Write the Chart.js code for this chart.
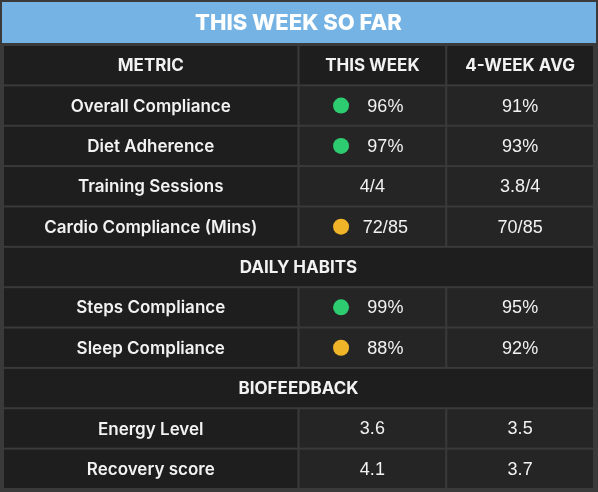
<!DOCTYPE html>
<html>
<head>
<meta charset="utf-8">
<script src="https://cdn.jsdelivr.net/npm/chart.js@4"></script>
<style>
  html, body { margin: 0; padding: 0; background: #3a3a3a; }
  #wrap { width: 598px; height: 492px; }
</style>
</head>
<body>
<div id="wrap"><canvas id="tbl"></canvas></div>
<script>
// Table content
var title = 'THIS WEEK SO FAR';
var headers = ['METRIC', 'THIS WEEK', '4-WEEK AVG'];
var metrics = ['Overall Compliance', 'Diet Adherence', 'Training Sessions', 'Cardio Compliance (Mins)',
  'DAILY HABITS', 'Steps Compliance', 'Sleep Compliance', 'BIOFEEDBACK', 'Energy Level', 'Recovery score'];
var thisWeek = ['96%', '97%', '4/4', '72/85', null, '99%', '88%', null, '3.6', '4.1'];
var avg4w = ['91%', '93%', '3.8/4', '70/85', null, '95%', '92%', null, '3.5', '3.7'];
var statusFlags = ['green', 'green', null, 'yellow', null, 'green', 'yellow', null, null, null];

var colEdges = [0, 50, 75, 100];
var statusColors = { green: '#2ecc71', yellow: '#f0b429' };

var dotPoints = [], dotColors = [];
for (var i = 0; i < statusFlags.length; i++) {
  if (statusFlags[i]) {
    dotPoints.push({ x: 57.2, y: i + 1.5 });
    dotColors.push(statusColors[statusFlags[i]]);
  }
}

var tablePlugin = {
  id: 'tablePlugin',
  beforeDatasetsDraw: function(chart) {
    var ctx = chart.ctx, xs = chart.scales.x, ys = chart.scales.y;
    var nRows = metrics.length + 1;
    ctx.save();
    // title band
    ctx.fillStyle = '#74b3e3';
    ctx.fillRect(2, 2, 594, 41);
    ctx.fillStyle = '#ffffff';
    ctx.font = '800 22px Inter';
    ctx.textAlign = 'center';
    ctx.textBaseline = 'middle';
    ctx.fillText(title, (xs.getPixelForValue(0) + xs.getPixelForValue(100)) / 2, 23);

    function cell(c0, c1, r, fill) {
      var x0 = xs.getPixelForValue(colEdges[c0]), x1 = xs.getPixelForValue(colEdges[c1]);
      var y0 = ys.getPixelForValue(r), y1 = ys.getPixelForValue(r + 1);
      ctx.fillStyle = fill;
      ctx.fillRect(x0 + 1, y0 + 1, x1 - x0 - 2, y1 - y0 - 2);
      return { cx: (x0 + x1) / 2, cy: (y0 + y1) / 2 };
    }
    function text(s, x, y, font) {
      ctx.fillStyle = '#f2f2f2';
      ctx.font = font;
      ctx.fillText(s, x, y + 1);
    }
    for (var r = 0; r < nRows; r++) {
      if (r === 0) {
        for (var c = 0; c < 3; c++) {
          var p = cell(c, c + 1, 0, '#1e1e1e');
          text(headers[c], p.cx, p.cy, 'bold 17px Inter');
        }
        continue;
      }
      var i = r - 1;
      if (thisWeek[i] === null) {
        var q = cell(0, 3, r, '#1e1e1e');
        text(metrics[i], q.cx, q.cy, 'bold 17px Inter');
        continue;
      }
      var a = cell(0, 1, r, '#1e1e1e');
      text(metrics[i], a.cx, a.cy, '600 17px Inter');
      var b = cell(1, 2, r, '#252525');
      text(thisWeek[i], b.cx + (statusFlags[i] ? 13 : 0), b.cy, '18px "Liberation Sans"');
      var d = cell(2, 3, r, '#252525');
      text(avg4w[i], d.cx, d.cy, '18px "Liberation Sans"');
    }
    ctx.restore();
  }
};

new Chart(document.getElementById('tbl'), {
  type: 'scatter',
  data: {
    datasets: [{
      data: dotPoints,
      pointBackgroundColor: dotColors,
      pointBorderWidth: 0,
      pointRadius: 8,
      pointHoverRadius: 8
    }]
  },
  options: {
    responsive: true,
    maintainAspectRatio: false,
    animation: false,
    layout: { autoPadding: false, padding: { top: 45, left: 3, right: 4, bottom: 3 } },
    plugins: { legend: { display: false }, tooltip: { enabled: false } },
    scales: {
      x: { type: 'linear', min: 0, max: 100, display: false },
      y: { type: 'linear', min: 0, max: metrics.length + 1, reverse: true, display: false }
    }
  },
  plugins: [tablePlugin]
});
</script>
</body>
</html>
